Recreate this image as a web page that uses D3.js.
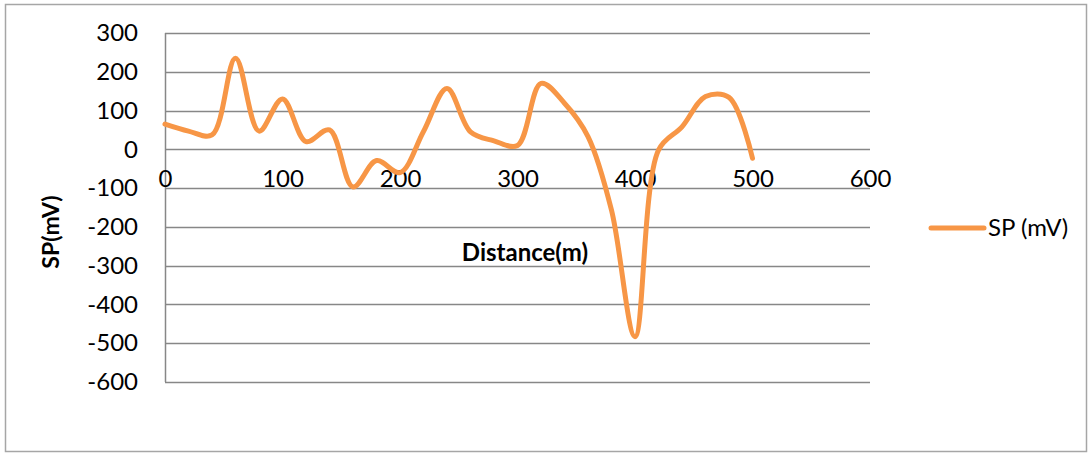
<!DOCTYPE html>
<html>
<head>
<meta charset="utf-8">
<script src="https://cdn.jsdelivr.net/npm/d3@7"></script>
<style>
  html, body { margin: 0; padding: 0; background: #fff; }
  svg { display: block; }
  text { font-family: Lato, "Open Sans", sans-serif; fill: #000; }
</style>
</head>
<body>
<svg id="chart" width="1092" height="454"></svg>
<script>
const distance = [0,20,40,60,80,100,120,140,160,180,200,220,240,260,280,300,320,340,360,380,400,420,440,460,480,500];
const spValues = [65,47,37,235,47,130,20,50,-97,-29,-60,46,157,45,22,10,170,119,33,-157,-483,-2,58,136,134,-23];
const xTicks = [0,100,200,300,400,500,600];
const yTicks = [300,200,100,0,-100,-200,-300,-400,-500,-600];
const seriesName = "SP (mV)";
const xTitle = "Distance(m)";
const yTitle = "SP(mV)";

const svg = d3.select("#chart");
const gridColor = "#878787";
const lineColor = "#f79646";
const fmt = d => String(d);

// outer frame
svg.append("rect").attr("x", 5.5).attr("y", 4.5).attr("width", 1081).attr("height", 447)
  .attr("fill", "none").attr("stroke", "#a6a6a6").attr("stroke-width", 1.5);

const x = d3.scaleLinear().domain([0, 600]).range([165, 870]);
const y = d3.scaleLinear().domain([-600, 300]).range([382, 33]);

// gridlines
svg.append("g").selectAll("line").data(yTicks).join("line")
  .attr("x1", x(0)).attr("x2", x(600))
  .attr("y1", d => Math.round(y(d)) + 0.5).attr("y2", d => Math.round(y(d)) + 0.5)
  .attr("stroke", gridColor).attr("stroke-width", 1.5);

// y axis line
svg.append("line").attr("x1", x(0) + 0.5).attr("x2", x(0) + 0.5)
  .attr("y1", y(300)).attr("y2", y(-600))
  .attr("stroke", gridColor).attr("stroke-width", 1.5);

// y tick labels
const yAxis = d3.axisLeft(y).tickValues(yTicks).tickSize(0).tickPadding(27).tickFormat(fmt);
const gy = svg.append("g").attr("transform", `translate(${x(0)},0)`).call(yAxis);
gy.select(".domain").remove();
gy.selectAll("text").attr("font-size", 24).attr("font-family", "Lato, sans-serif").attr("fill", "#000");

// x tick labels (placed below the zero line)
const xAxis = d3.axisBottom(x).tickValues(xTicks).tickSize(0).tickPadding(0).tickFormat(fmt);
const gx = svg.append("g").attr("transform", `translate(0,${y(0) + 30})`).call(xAxis);
gx.select(".domain").remove();
gx.selectAll("text").attr("font-size", 24).attr("font-family", "Lato, sans-serif").attr("fill", "#000")
  .attr("dy", "0.3em");

// line
const line = d3.line().x((d, i) => x(distance[i])).y(d => y(d)).curve(d3.curveCatmullRom.alpha(0.5));
svg.append("path").datum(spValues).attr("d", line)
  .attr("fill", "none").attr("stroke", lineColor).attr("stroke-width", 5)
  .attr("stroke-linecap", "round").attr("stroke-linejoin", "round");

// axis titles
svg.append("text").attr("x", 525).attr("y", 261).attr("text-anchor", "middle")
  .attr("font-size", 24).attr("font-weight", "bold").text(xTitle);
svg.append("text").attr("transform", "translate(59,232) rotate(-90)").attr("text-anchor", "middle")
  .attr("font-size", 23).attr("font-weight", "bold").text(yTitle);

// legend
svg.append("line").attr("x1", 931).attr("x2", 984).attr("y1", 228).attr("y2", 228)
  .attr("stroke", lineColor).attr("stroke-width", 5).attr("stroke-linecap", "round");
svg.append("text").attr("x", 988).attr("y", 236).attr("font-size", 24).text(seriesName);
</script>
</body>
</html>
